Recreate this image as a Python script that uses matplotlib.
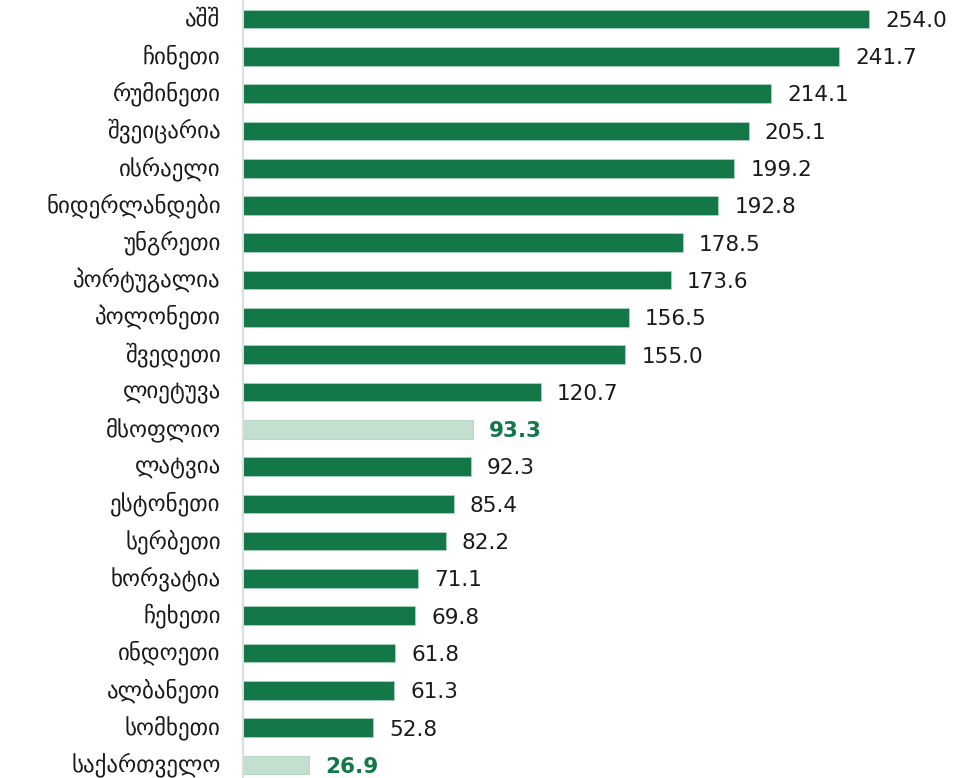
import matplotlib.pyplot as plt

countries = ['აშშ', 'ჩინეთი', 'რუმინეთი', 'შვეიცარია', 'ისრაელი', 'ნიდერლანდები',
             'უნგრეთი', 'პორტუგალია', 'პოლონეთი', 'შვედეთი', 'ლიეტუვა', 'მსოფლიო',
             'ლატვია', 'ესტონეთი', 'სერბეთი', 'ხორვატია', 'ჩეხეთი', 'ინდოეთი',
             'ალბანეთი', 'სომხეთი', 'საქართველო']
values = [254.0, 241.7, 214.1, 205.1, 199.2, 192.8, 178.5, 173.6, 156.5, 155.0,
          120.7, 93.3, 92.3, 85.4, 82.2, 71.1, 69.8, 61.8, 61.3, 52.8, 26.9]
highlight = ['მსოფლიო', 'საქართველო']

dark = '#137748'
light = '#c2dfd0'

plt.rcParams['font.family'] = ['DejaVu Sans']

fig = plt.figure(figsize=(9.63, 7.78), dpi=100)
ax = fig.add_axes([0.2523, 0, 0.7477, 1])

pos = list(range(len(countries)))
colors = [light if c in highlight else dark for c in countries]
ax.barh(pos, values, height=0.5, color=colors, edgecolor='#a8d5bd', linewidth=0.6)

for i, (c, v) in enumerate(zip(countries, values)):
    if c in highlight:
        ax.text(v + 6.5, i + 0.05, f'{v:.1f}', va='center', ha='left', fontsize=15.5,
                color=dark, fontweight='bold')
    else:
        ax.text(v + 6.5, i + 0.05, f'{v:.1f}', va='center', ha='left', fontsize=15.5,
                color='#1a1a1a')

ax.set_yticks(pos)
ax.set_yticklabels(countries, fontsize=16.5, color='#1a1a1a')
for lbl in ax.get_yticklabels():
    lbl.set_va('center')
ax.tick_params(axis='y', length=0, pad=16)
ax.set_xticks([])
ax.set_xlim(0, 292)
ax.set_ylim(20.35, -0.51)

for s in ['top', 'right', 'bottom']:
    ax.spines[s].set_visible(False)
ax.spines['left'].set_color('#dddddd')
ax.spines['left'].set_linewidth(1.5)

fig.savefig('out.png', dpi=100)
